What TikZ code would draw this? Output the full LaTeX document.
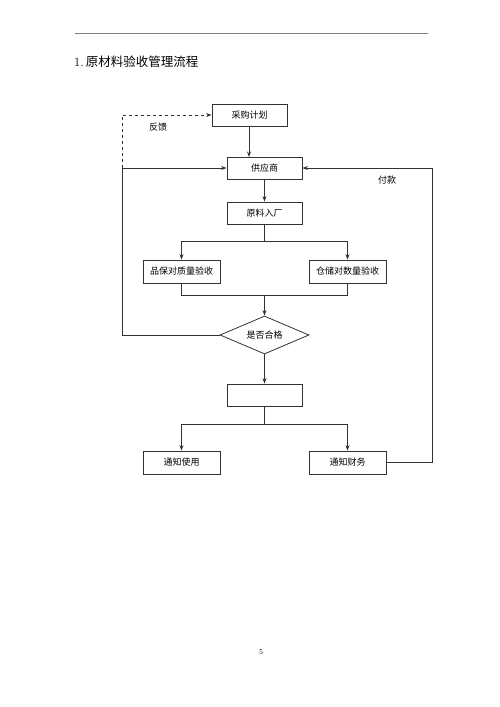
\documentclass[tikz,border=0pt]{standalone}
\usepackage{fontspec}
\newfontfamily\cjk{Noto Sans CJK SC}
\usepackage{tikz}
\usetikzlibrary{shapes.geometric,arrows.meta,positioning,calc}
\tikzset{
    stepbox/.style={
        rectangle, draw=black!80, line width=0.8pt,
        minimum width=75pt, minimum height=22pt,
        inner sep=1pt, align=center, font=\cjk\fontsize{9}{10}\selectfont
    },
    widebox/.style={stepbox, minimum width=77pt, minimum height=23pt},
    decision/.style={
        diamond, aspect=2.35, draw=black!80, line width=0.8pt,
        minimum width=89pt, minimum height=38pt, inner sep=0pt,
        font=\cjk\fontsize{9}{10}\selectfont
    },
    arrow/.style={-{Stealth[length=5.5pt,width=4pt]},line width=0.8pt,draw=black!80},
    link/.style={line width=0.8pt,draw=black!80},
    note/.style={font=\cjk\fontsize{9}{10}\selectfont}
}

\begin{document}
\begin{tikzpicture}[x=1pt,y=-1pt]
\useasboundingbox (0,0) rectangle (500,707);

% ---- header and title ----
\draw[gray, line width=0.7pt] (75,33) -- (428,33);
\node[anchor=west, inner sep=0pt] (title) at (74,62)
    {\fontsize{12.5}{14}\selectfont 1.\,{\cjk 原材料验收管理流程}};

% ---- main column ----
\node[stepbox] (plan)     at (249.5,115) {采购计划};
\node[stepbox] (supplier) at (264.5,168) {供应商};
\node[stepbox] (arrive)   at (264.5,213) {原料入厂};

% ---- checks ----
\node[widebox] (qcheck) at (181.5,271.5) {品保对质量验收};
\node[widebox] (ncheck) at (347.5,271.5) {仓储对数量验收};

% ---- decision ----
\node[decision] (judge) at (264.5,335) {是否合格};
\node[stepbox]  (blank) at (264.5,395) {};

% ---- notices ----
\node[widebox] (use)     at (181.5,462.5) {通知使用};
\node[widebox] (finance) at (347.5,462.5) {通知财务};

% branch points
\coordinate (split1) at (264.5,241);
\coordinate (join1)  at (264.5,295);
\coordinate (split2) at (264.5,424);
\coordinate (back)   at (122,335);
\coordinate (pay)    at (432,462.5);

% plan -> supplier -> arrive
\draw[arrow] (249,127) -- (249,157);
\draw[arrow] (arrive.north |- supplier.south) -- (arrive.north);

% arrive -> both checks
\draw[link] (arrive.south) -- (split1);
\draw[arrow] (split1) -| (qcheck.north);
\draw[arrow] (split1) -| (ncheck.north);

% checks -> decision
\draw[link] (qcheck.south) |- (join1);
\draw[link] (ncheck.south) |- (join1);
\draw[arrow] (join1) -- (judge.north);

% not ok -> back to supplier, feedback to plan
\draw[arrow] (judge.west) -- (back) |- (supplier.west);
\draw[arrow, dashed] (back |- supplier.west) |- (plan.west);
\node[note] (fb) at (158,127) {反馈};

% ok -> blank -> notices
\draw[arrow] (judge.south) -- (blank.north);
\draw[link] (blank.south) -- (split2);
\draw[arrow] (split2) -| (use.north);
\draw[arrow] (split2) -| (finance.north);

% payment loop
\draw[arrow] (finance.east) -- (pay) |- (supplier.east);
\node[note] (paylabel) at (387,180) {付款};

% page number
\node[font=\fontsize{7.5}{8}\selectfont, inner sep=0pt] (page) at (261,652) {5};

\end{tikzpicture}
\end{document}
